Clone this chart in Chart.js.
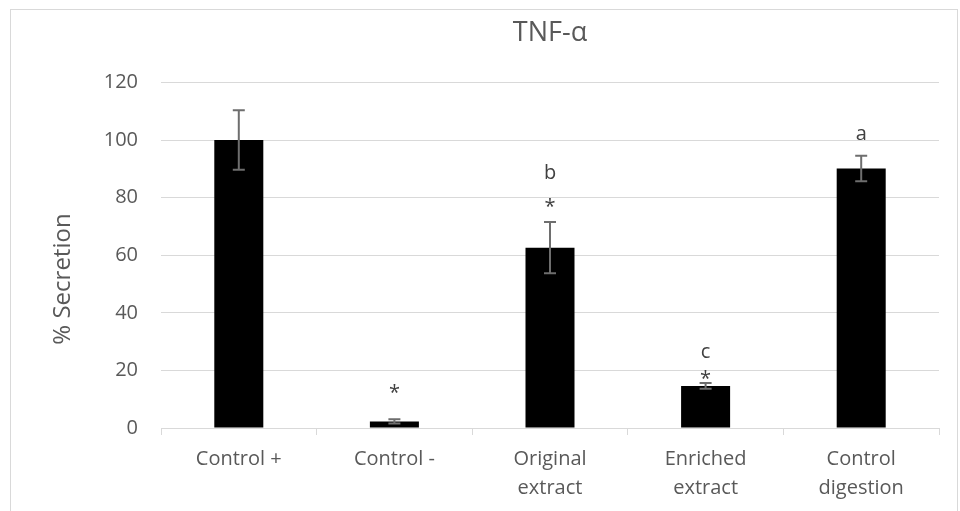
<!DOCTYPE html>
<html>
<head>
<meta charset="utf-8">
<title>TNF-α</title>
<script src="https://cdn.jsdelivr.net/npm/chart.js@4"></script>
<style>
  body { margin: 0; background: #fff; }
  #wrap { width: 960px; height: 511px; }
</style>
</head>
<body>
<div id="wrap"><canvas id="myChart" width="960" height="511"></canvas></div>
<script>
// ---- data ----
const categories = [["Control +"], ["Control -"], ["Original", "extract"], ["Enriched", "extract"], ["Control", "digestion"]];
const secretion = [100, 2.3, 62.6, 14.6, 90.1];
const errors = [10.3, 0.7, 8.9, 1.0, 4.4];
const letters = ["", "", "b", "c", "a"];
const letterPos = [null, null, 88.4, 26.3, 102];
const stars = ["", "*", "*", "*", ""];
const starPos = [null, 13.9, 78.4, 18.6, null];
const yTicks = [0, 20, 40, 60, 80, 100, 120];
const yTitle = "% Secretion";

const grey = "#595959";
const gridGrey = "#d9d9d9";

// border round the whole chart, like the excel frame
const frame = {
  id: "frame",
  beforeDraw(chart) {
    const ctx = chart.ctx;
    ctx.save();
    ctx.fillStyle = "#fff";
    ctx.fillRect(0, 0, chart.width, chart.height);
    ctx.strokeStyle = gridGrey;
    ctx.lineWidth = 1;
    ctx.strokeRect(10.5, 9.5, 947, 520);
    ctx.restore();
  },
};

// error bars + significance letters + axis title
const marks = {
  id: "marks",
  afterDatasetsDraw(chart) {
    const ctx = chart.ctx;
    const y = chart.scales.y;
    const bars = chart.getDatasetMeta(0).data;
    ctx.save();
    bars.forEach((bar, i) => {
      const top = y.getPixelForValue(secretion[i] + errors[i]);
      const bot = y.getPixelForValue(secretion[i] - errors[i]);
      ctx.strokeStyle = "#6e6e6e";
      ctx.lineWidth = 2;
      ctx.beginPath();
      ctx.moveTo(bar.x, top);
      ctx.lineTo(bar.x, bot);
      ctx.moveTo(bar.x - 6, top);
      ctx.lineTo(bar.x + 6, top);
      ctx.moveTo(bar.x - 6, bot);
      ctx.lineTo(bar.x + 6, bot);
      ctx.stroke();

      ctx.fillStyle = "#404040";
      ctx.textAlign = "center";
      ctx.textBaseline = "middle";
      ctx.font = "20px 'Open Sans'";
      if (letters[i]) ctx.fillText(letters[i], bar.x, y.getPixelForValue(letterPos[i]));
      if (stars[i]) ctx.fillText(stars[i], bar.x, y.getPixelForValue(starPos[i]) + 5);
    });

    // y title, centred a bit lower like in excel
    ctx.translate(63, 279);
    ctx.rotate(-Math.PI / 2);
    ctx.fillStyle = grey;
    ctx.font = "24px 'Open Sans'";
    ctx.fillText(yTitle, 0, 0);
    ctx.restore();
  },
};

const ctx = document.getElementById("myChart").getContext("2d");
const myChart = new Chart(ctx, {
  type: "bar",
  data: {
    labels: categories,
    datasets: [
      {
        data: secretion,
        backgroundColor: "#000",
        barPercentage: 0.315,
        categoryPercentage: 1,
      },
    ],
  },
  options: {
    responsive: false,
    animation: false,
    layout: { padding: { left: 10, right: 21, top: 0, bottom: 0 } },
    plugins: {
      legend: { display: false },
      tooltip: { enabled: false },
      title: {
        display: true,
        text: "TNF-α",
        fullSize: false,
        color: grey,
        font: { family: "'Open Sans'", size: 27, weight: "normal" },
        padding: { top: 17, bottom: 33 },
      },
    },
    scales: {
      x: {
        afterFit(scale) {
          scale.height = 83;
        },
        grid: { drawOnChartArea: false, offset: true, tickLength: 7, color: gridGrey },
        border: { color: gridGrey },
        ticks: {
          color: grey,
          padding: 10,
          maxRotation: 0,
          font: { family: "'Open Sans'", size: 20, lineHeight: 1.45 },
        },
      },
      y: {
        min: 0,
        max: 120,
        afterFit(scale) {
          scale.width = 151;
        },
        afterBuildTicks(scale) {
          scale.ticks = yTicks.map((v) => ({ value: v }));
        },
        grid: { color: gridGrey, drawTicks: false },
        border: { display: false },
        ticks: {
          color: grey,
          padding: 23,
          font: { family: "'Open Sans'", size: 20 },
        },
      },
    },
  },
  plugins: [frame, marks],
});
</script>
</body>
</html>
